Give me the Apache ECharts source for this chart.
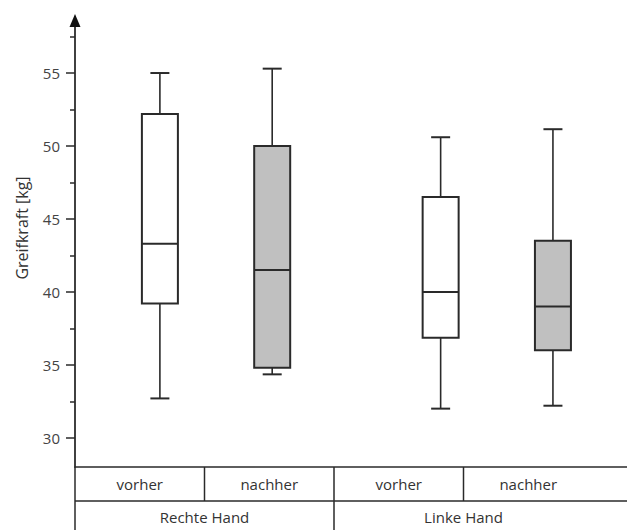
<!DOCTYPE html>
<html>
<head>
<meta charset="utf-8">
<script src="https://cdn.jsdelivr.net/npm/echarts@6/dist/echarts.min.js"></script>
<style>
  html, body { margin: 0; padding: 0; background: #ffffff; }
  #chart { width: 627px; height: 530px; }
</style>
</head>
<body>
<div id="chart"></div>
<script>
// Table labels under the plot
const conditions = ['vorher', 'nachher', 'vorher', 'nachher'];
const hands = ['Rechte Hand', 'Linke Hand'];

// Box statistics for each group (kg)
const whiskerLow  = [32.7, 34.35, 32.0, 32.2];
const quartile1   = [39.2, 34.8, 36.85, 36.0];
const medians     = [43.3, 41.5, 40.0, 39.0];
const quartile3   = [52.2, 50.0, 46.5, 43.5];
const whiskerHigh = [55.0, 55.3, 50.6, 51.15];

// Y axis tick values
const yTicks = [30, 35, 40, 45, 50, 55];
const yMinorTicks = [32.5, 37.5, 42.5, 47.5, 52.5, 57.5];

// Layout: slot of each box along the x axis, and the axis ranges
const slots = [0, 2, 5, 7];
const xRange = [-1.512, 8.319];
const yRange = [28, 58.6];

const FONT = 'Open Sans';
const INK = '#2a2a2a';
const GRID = { left: 75, right: 0, top: 20.5, bottom: 63 };

const chart = echarts.init(document.getElementById('chart'), null, { renderer: 'svg' });

const boxData = slots.map((s, i) => [
  s, whiskerLow[i], quartile1[i], medians[i], quartile3[i], whiskerHigh[i], i % 2
]);

function renderBox(params, api) {
  const x = api.value(0);
  const lo = api.coord([x, api.value(1)]);
  const q1 = api.coord([x, api.value(2)]);
  const md = api.coord([x, api.value(3)]);
  const q3 = api.coord([x, api.value(4)]);
  const hi = api.coord([x, api.value(5)]);
  const cx = lo[0];
  const bw = 36, cw = 19;
  const fill = api.value(6) ? '#c0c0c0' : '#ffffff';
  const ls = { stroke: INK, lineWidth: 1.6 };
  return {
    type: 'group',
    children: [
      { type: 'line', shape: { x1: cx, y1: hi[1], x2: cx, y2: q3[1] }, style: ls },
      { type: 'line', shape: { x1: cx, y1: q1[1], x2: cx, y2: lo[1] }, style: ls },
      { type: 'line', shape: { x1: cx - cw / 2, y1: hi[1], x2: cx + cw / 2, y2: hi[1] }, style: { stroke: INK, lineWidth: 2 } },
      { type: 'line', shape: { x1: cx - cw / 2, y1: lo[1], x2: cx + cw / 2, y2: lo[1] }, style: { stroke: INK, lineWidth: 2 } },
      { type: 'rect', shape: { x: cx - bw / 2, y: q3[1], width: bw, height: q1[1] - q3[1] },
        style: { fill: fill, stroke: INK, lineWidth: 2 } },
      { type: 'line', shape: { x1: cx - bw / 2, y1: md[1], x2: cx + bw / 2, y2: md[1] }, style: { stroke: INK, lineWidth: 2 } }
    ]
  };
}

// Table below the plot: two rows, four condition cells and two hand cells
const tableTop = 530 - GRID.bottom;
const rowSplit = 501;
const tableLeft = GRID.left;
const colW = 129.5;
const tableGraphics = [];
const lineStyle = { stroke: INK, lineWidth: 1.5 };
tableGraphics.push({ type: 'line', shape: { x1: tableLeft, y1: rowSplit, x2: 627, y2: rowSplit }, style: lineStyle });
tableGraphics.push({ type: 'line', shape: { x1: tableLeft, y1: tableTop, x2: tableLeft, y2: 530 }, style: lineStyle });
for (let c = 1; c < conditions.length; c++) {
  const x = tableLeft + c * colW;
  const full = c % 2 === 0;
  tableGraphics.push({ type: 'line', shape: { x1: x, y1: tableTop, x2: x, y2: full ? 530 : rowSplit }, style: lineStyle });
}
conditions.forEach((t, i) => {
  tableGraphics.push({
    type: 'text', x: tableLeft + (i + 0.5) * colW, y: (tableTop + rowSplit) / 2,
    style: { text: t, fontFamily: FONT, fontSize: 15, fill: '#333', align: 'center', verticalAlign: 'middle' }
  });
});
hands.forEach((t, i) => {
  tableGraphics.push({
    type: 'text', x: tableLeft + (i * 2 + 1) * colW, y: (rowSplit + 530) / 2 + 1,
    style: { text: t, fontFamily: FONT, fontSize: 15, fill: '#333', align: 'center', verticalAlign: 'middle' }
  });
});
tableGraphics.push({
  type: 'text', x: 22, y: 228, rotation: Math.PI / 2,
  style: { text: 'Greifkraft [kg]', fontFamily: FONT, fontSize: 16, fill: '#333', align: 'center', verticalAlign: 'middle' }
});

chart.setOption({
  animation: false,
  backgroundColor: '#ffffff',
  grid: GRID,
  xAxis: {
    type: 'value', min: xRange[0], max: xRange[1],
    axisLine: { show: true, onZero: false, lineStyle: { color: INK, width: 1.5 } },
    axisTick: { show: false }, axisLabel: { show: false }, splitLine: { show: false }
  },
  yAxis: [
    {
      type: 'value', min: yRange[0], max: yRange[1], position: 'left',
      axisLine: { show: true, onZero: false, symbol: ['none', 'triangle'], symbolSize: [11, 13],
        lineStyle: { color: '#111', width: 1.6 } },
      axisTick: { show: true, customValues: yTicks, length: 9, lineStyle: { color: INK, width: 1.5 } },
      axisLabel: { customValues: yTicks, margin: 15, fontFamily: FONT, fontSize: 15, color: '#444' },
      splitLine: { show: false }
    },
    {
      type: 'value', min: yRange[0], max: yRange[1], position: 'left', offset: 0,
      axisLine: { show: false, onZero: false },
      axisTick: { show: true, customValues: yMinorTicks, length: 5, lineStyle: { color: INK, width: 1.5 } },
      axisLabel: { show: false },
      splitLine: { show: false }
    }
  ],
  series: [{
    type: 'custom',
    renderItem: renderBox,
    encode: { x: 0, y: [1, 2, 3, 4, 5] },
    data: boxData,
    z: 5
  }],
  graphic: tableGraphics
});
</script>
</body>
</html>
